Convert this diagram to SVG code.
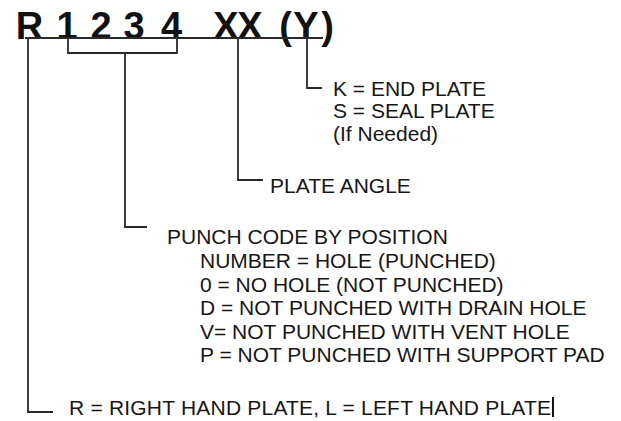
<svg xmlns="http://www.w3.org/2000/svg" width="621" height="421" viewBox="0 0 621 421">
<style>
  .t { font-family: "Liberation Sans", Arial, sans-serif; font-size: 21px; fill: #161616; }
  .h { font-family: "Liberation Sans", Arial, sans-serif; font-size: 38px; font-weight: bold; fill: #111; }
  .c { fill: none; stroke: #2a2a2a; stroke-width: 1.8; stroke-linejoin: miter; }
</style>
<rect width="621" height="421" fill="#fff"/>
<g id="code">
  <text class="h" y="39" text-anchor="middle" x="29.5 67 101 134 171.5 226 250 285.5 306 327.5">R1234XX(Y)</text>
</g>
<g id="connectors">
  <line class="c" x1="25" y1="38" x2="323" y2="38"/>
  <polyline class="c" points="28,38 28,412 53,412"/>
  <polyline class="c" points="68,38 68,53 177,53 177,38"/>
  <polyline class="c" points="125,53 125,227 147,227"/>
  <polyline class="c" points="238,38 238,180 263,180"/>
  <polyline class="c" points="307,38 307,88 322,88"/>
</g>
<g id="end-plate">
  <text class="t" x="333" y="96">K = END PLATE</text>
  <text class="t" x="333" y="118">S = SEAL PLATE</text>
  <text class="t" x="333" y="141">(If Needed)</text>
</g>
<g id="plate-angle">
  <text class="t" x="270" y="193">PLATE ANGLE</text>
</g>
<g id="punch-code">
  <text class="t" x="167" y="243.5">PUNCH CODE BY POSITION</text>
  <text class="t" x="200" y="267.5">NUMBER = HOLE (PUNCHED)</text>
  <text class="t" x="200" y="291.5">0 = NO HOLE (NOT PUNCHED)</text>
  <text class="t" x="200" y="315">D = NOT PUNCHED WITH DRAIN HOLE</text>
  <text class="t" x="200" y="338.5">V= NOT PUNCHED WITH VENT HOLE</text>
  <text class="t" x="200" y="362">P = NOT PUNCHED WITH SUPPORT PAD</text>
</g>
<g id="hand">
  <text class="t" x="69" y="415" textLength="482" lengthAdjust="spacing">R = RIGHT HAND PLATE, L = LEFT HAND PLATE</text>
  <line x1="553" y1="397" x2="553" y2="417" stroke="#111" stroke-width="2"/>
</g>
</svg>
